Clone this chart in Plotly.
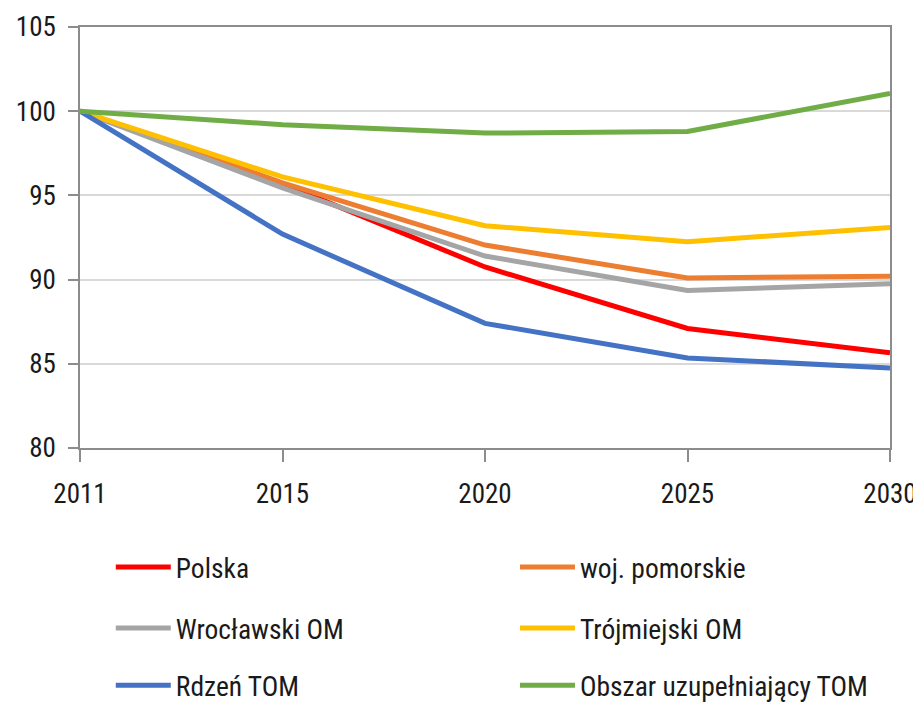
import plotly.graph_objects as go

years = ["2011", "2015", "2020", "2025", "2030"]
polska = [100, 95.7, 90.75, 87.1, 85.65]
pomorskie = [100, 95.75, 92.05, 90.1, 90.2]
wroclawski = [100, 95.45, 91.4, 89.35, 89.75]
trojmiejski = [100, 96.1, 93.2, 92.25, 93.1]
rdzen = [100, 92.7, 87.4, 85.35, 84.75]
obszar = [100, 99.2, 98.7, 98.8, 101.05]

names = ["Polska", "woj. pomorskie", "Wrocławski OM", "Trójmiejski OM",
         "Rdzeń TOM", "Obszar uzupełniający TOM"]
values = [polska, pomorskie, wroclawski, trojmiejski, rdzen, obszar]
colors = ["#FF0000", "#ED7D31", "#A5A5A5", "#FFC000", "#4472C4", "#70AD47"]

FONT = "Roboto Condensed, Liberation Sans Narrow, sans-serif"

# legend slots: (x, y) in plot-fraction coordinates, two columns by three rows
leg_x = [0.038, 0.537]
leg_y = [-0.2827, -0.4276, -0.564]

fig = go.Figure()
layout_legends = {}
for i, (name, vals, color) in enumerate(zip(names, values, colors)):
    key = "legend" if i == 0 else f"legend{i + 1}"
    fig.add_trace(go.Scatter(x=years, y=vals, name=name, mode="lines",
                             line=dict(color=color, width=5), legend=key))
    layout_legends[key] = dict(
        orientation="h", xanchor="left", yanchor="middle",
        x=leg_x[i % 2], y=leg_y[i // 2], itemwidth=55,
        font=dict(family=FONT, size=27.5, color="#1a1a1a"),
        bgcolor="rgba(0,0,0,0)")

fig.update_layout(
    width=913, height=694,
    margin=dict(l=72, r=31, t=19, b=254, autoexpand=False),
    paper_bgcolor="white", plot_bgcolor="white",
    showlegend=True,
    xaxis=dict(type="category", range=[0, 4], showgrid=False, automargin=False,
               showline=True, linecolor="#8C8C8C", linewidth=1.5, mirror=True,
               ticks="outside", ticklen=12, tickcolor="#8C8C8C", tickwidth=1.5,
               ticklabelstandoff=9,
               tickfont=dict(family=FONT, size=27, color="#1a1a1a")),
    yaxis=dict(range=[80, 105], dtick=5, showgrid=True, gridcolor="#D9D9D9", gridwidth=1.5,
               automargin=False,
               showline=True, linecolor="#8C8C8C", linewidth=1.5, mirror=True,
               ticks="outside", ticklen=10, tickcolor="#8C8C8C", tickwidth=1.5,
               ticklabelstandoff=7, zeroline=False,
               tickfont=dict(family=FONT, size=27, color="#1a1a1a")),
    **layout_legends,
)

fig.write_html("out.html")
